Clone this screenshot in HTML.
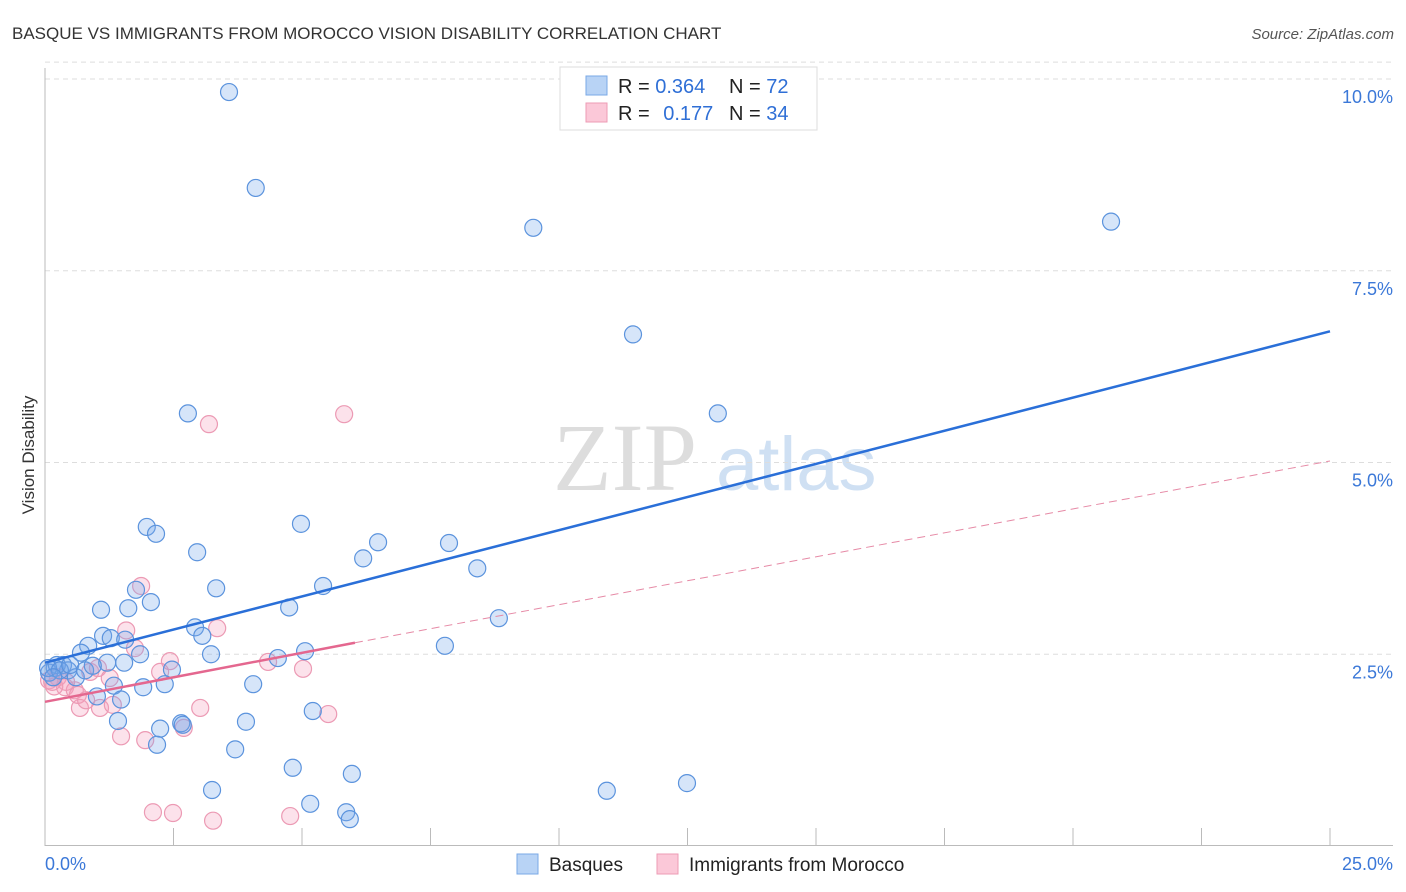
<!DOCTYPE html>
<html><head><meta charset="utf-8"><style>
body{margin:0;background:#fff;font-family:"Liberation Sans",sans-serif;}
svg{display:block}
</style></head><body>
<svg id="c" width="1406" height="892" viewBox="0 0 1406 892" xmlns="http://www.w3.org/2000/svg">
<text x="12" y="39" font-size="17" fill="#333">BASQUE VS IMMIGRANTS FROM MOROCCO VISION DISABILITY CORRELATION CHART</text>
<text x="1394" y="39" font-size="15" fill="#555" font-style="italic" text-anchor="end">Source: ZipAtlas.com</text>
<text transform="translate(34,455) rotate(-90)" font-size="17" fill="#333" text-anchor="middle">Vision Disability</text>
<g><text x="553" y="490" font-size="96" font-family="Liberation Serif,serif" fill="#ddd">ZIP</text><text x="716" y="490" font-size="76" fill="#cfe0f3">atlas</text></g>
<g id="grid"></g><g id="axes"></g><g id="pts"></g><g id="lines"></g>
<g>
<rect x="560" y="67" width="257" height="63" fill="#fff" stroke="#ddd"/>
<rect x="586" y="76" width="21" height="19" fill="#b8d3f5" stroke="#7aa8e6"/>
<rect x="586" y="103" width="21" height="19" fill="#fbc8d8" stroke="#ee9bb5"/>
<text x="618" y="93" font-size="20" fill="#222">R = <tspan fill="#2f6fd6">0.364</tspan></text>
<text x="729" y="93" font-size="20" fill="#222">N = <tspan fill="#2f6fd6">72</tspan></text>
<text x="618" y="120" font-size="20" fill="#222">R = <tspan fill="#2f6fd6" dx="8">0.177</tspan></text>
<text x="729" y="120" font-size="20" fill="#222">N = <tspan fill="#2f6fd6">34</tspan></text>
</g>
<g>
<rect x="517" y="854" width="21" height="20" fill="#b8d3f5" stroke="#7aa8e6"/>
<text x="549" y="871" font-size="19" fill="#222">Basques</text>
<rect x="657" y="854" width="21" height="20" fill="#fbc8d8" stroke="#ee9bb5"/>
<text x="689" y="871" font-size="19" fill="#222">Immigrants from Morocco</text>
</g>
</svg>
<script>
const xTicks=[0,2.5,5,7.5,10,12.5,15,17.5,20,22.5,25];
const yTicks=[2.5,5,7.5,10];
const yTickLabels=["2.5%","5.0%","7.5%","10.0%"];
const blueX=[3.58,4.1,9.5,20.74,11.44,2.78,13.09,1.98,2.16,4.98,2.96,6.48,7.86,6.19,8.41,3.33,5.41,1.77,2.06,1.09,1.62,4.75,8.83,2.92,3.06,7.78,1.13,1.28,0.84,0.7,1.85,3.23,4.53,5.06,1.54,1.21,0.35,0.19,0.45,0.6,0.08,2.47,2.33,1.34,4.05,1.91,1.01,1.48,5.21,1.42,3.91,2.65,2.68,2.24,2.18,3.7,4.82,5.97,3.25,5.16,5.86,5.93,10.93,12.49,0.23,0.06,0.29,0.49,0.16,0.78,0.93,1.56];
const blueY=[9.83,8.58,8.06,8.14,6.67,5.64,5.64,4.16,4.07,4.2,3.83,3.96,3.95,3.75,3.62,3.36,3.39,3.34,3.18,3.08,3.1,3.11,2.97,2.85,2.74,2.61,2.74,2.71,2.61,2.52,2.5,2.5,2.45,2.54,2.39,2.39,2.36,2.32,2.29,2.2,2.26,2.3,2.11,2.09,2.11,2.07,1.95,1.91,1.76,1.63,1.62,1.6,1.58,1.53,1.32,1.26,1.02,0.94,0.73,0.55,0.44,0.35,0.72,0.82,2.36,2.32,2.29,2.36,2.2,2.29,2.35,2.69];
const pinkX=[5.82,3.19,1.87,3.35,1.58,1.75,2.43,4.34,5.02,0.88,1.03,2.24,0.25,0.39,0.58,1.26,0.41,0.08,0.18,1.07,0.68,1.32,3.02,2.7,1.95,1.48,5.51,2.1,2.49,3.27,4.77,0.14,0.64,0.8];
const pinkY=[5.63,5.5,3.39,2.84,2.81,2.58,2.41,2.4,2.31,2.27,2.32,2.27,2.2,2.07,2.03,2.19,2.14,2.16,2.08,1.8,1.8,1.84,1.8,1.54,1.38,1.43,1.72,0.44,0.43,0.33,0.39,2.14,1.97,1.9];
const blueTrend=[2.39,6.71];
const pinkTrend=[1.88,2.65,5.02];
const pinkSolidEnd=6.03;
const X=v=>45+v*51.4, Y=v=>846-v*76.7;
const NS="http://www.w3.org/2000/svg";
function mk(t,a,p){const e=document.createElementNS(NS,t);for(const k in a)e.setAttribute(k,a[k]);p.appendChild(e);return e;}
const grid=document.getElementById('grid'),axes=document.getElementById('axes'),pts=document.getElementById('pts'),lines=document.getElementById('lines');
yTicks.forEach((t,i)=>{
 const g=mk('line',{x1:45,x2:1393,y1:Y(t),y2:Y(t),stroke:'#ddd','stroke-dasharray':'5,4'},grid);
 
 
 const l=mk('text',{x:1393,y:Y(t)+24,'font-size':18,fill:'#3b78d8','text-anchor':'end'},axes);
 l.textContent=yTickLabels[i];
 
 
});
const tg=mk('line',{x1:45,x2:1393,y1:Y(10.22),y2:Y(10.22),stroke:'#ddd','stroke-dasharray':'5,4'},grid);


const ya=mk('line',{x1:45,x2:45,y1:68,y2:846,stroke:'#bbb'},axes);


const xa=mk('line',{x1:45,x2:1393,y1:845.5,y2:845.5,stroke:'#bbb'},axes);


xTicks.forEach(t=>{
 const k=mk('line',{x1:X(t),x2:X(t),y1:828,y2:846,stroke:'#bbb'},axes);
 
 
});
[[0,'0.0%','start',45],[25,'25.0%','end',1393]].forEach(a=>{
 const l=mk('text',{x:a[3],y:870,'font-size':18,fill:'#3b78d8','text-anchor':a[2]},axes);
 l.textContent=a[1];
 
 
});
pinkX.forEach((v,i)=>{
 const c=mk('circle',{cx:X(v),cy:Y(pinkY[i]),r:8.5,fill:'rgba(244,160,188,0.3)',stroke:'#ec9ab4','stroke-width':1.2},pts);
 
 
});
blueX.forEach((v,i)=>{
 const c=mk('circle',{cx:X(v),cy:Y(blueY[i]),r:8.5,fill:'rgba(120,170,235,0.3)',stroke:'#5b93dd','stroke-width':1.2},pts);
 
 
});
const bl=mk('line',{x1:X(0),y1:Y(blueTrend[0]),x2:X(25),y2:Y(blueTrend[1]),stroke:'#2a6fd8','stroke-width':2.5},lines);


const pd=mk('line',{x1:X(pinkSolidEnd),y1:Y(pinkTrend[1]),x2:X(25),y2:Y(pinkTrend[2]),stroke:'#e68aa6','stroke-width':1,'stroke-dasharray':'8,5'},lines);


const ps=mk('line',{x1:X(0),y1:Y(pinkTrend[0]),x2:X(pinkSolidEnd),y2:Y(pinkTrend[1]),stroke:'#e4678f','stroke-width':2.5},lines);


</script>
</body></html>
